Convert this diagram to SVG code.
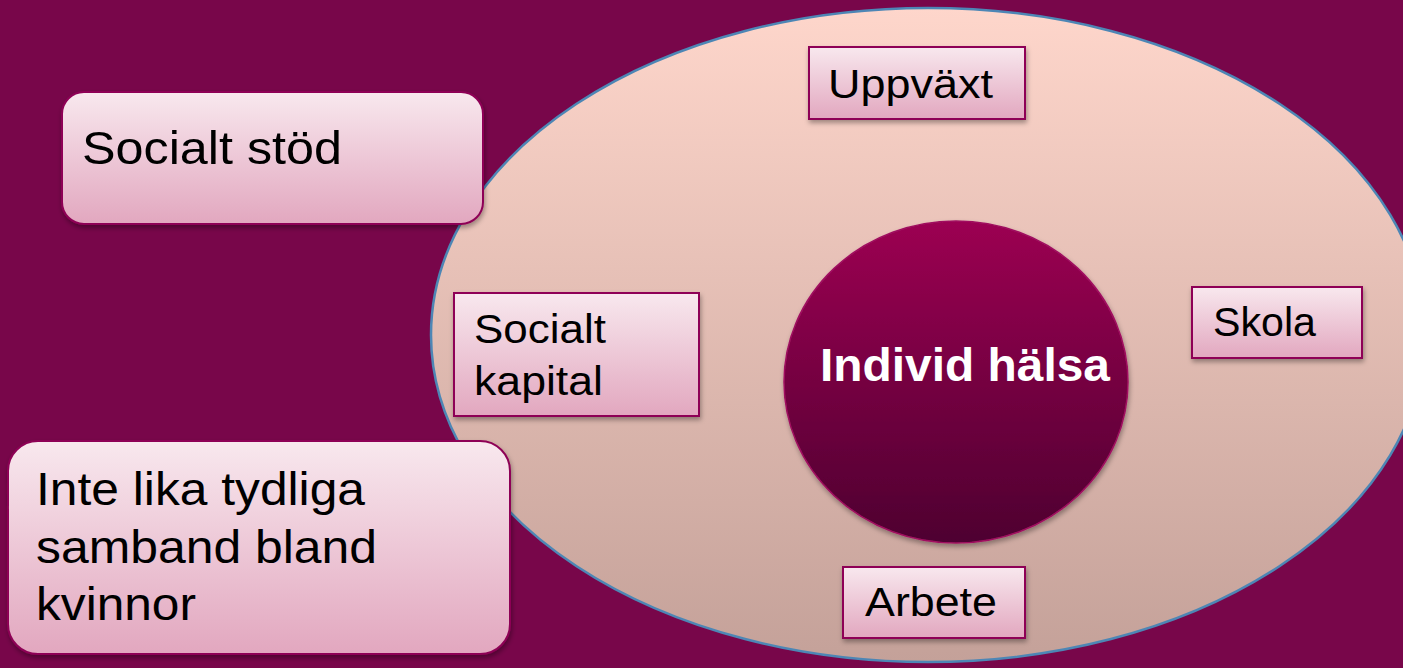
<svg xmlns="http://www.w3.org/2000/svg" width="1403" height="668" viewBox="0 0 1403 668">
<defs>
<linearGradient id="gEll" x1="0" y1="0" x2="0" y2="1">
<stop offset="0" stop-color="#FED6CB"/>
<stop offset="1" stop-color="#C4A199"/>
</linearGradient>
<linearGradient id="gBox" x1="0" y1="0" x2="0" y2="1">
<stop offset="0" stop-color="#F8E8EE"/>
<stop offset="1" stop-color="#E2A7BF"/>
</linearGradient>
<linearGradient id="gCirc" x1="0" y1="0" x2="0" y2="1">
<stop offset="0" stop-color="#9C0152"/>
<stop offset="1" stop-color="#4E0330"/>
</linearGradient>
<filter id="sh" x="-10%" y="-10%" width="125%" height="130%">
<feDropShadow dx="1" dy="3" stdDeviation="2.5" flood-color="#000" flood-opacity="0.35"/>
</filter>
</defs>
<style>
.box{fill:url(#gBox);stroke:#8E0556;stroke-width:2;filter:url(#sh)}
.t{font-family:"Liberation Sans","DejaVu Sans",sans-serif;fill:#000}
.s{font-size:41px}
.b{font-size:46px}
</style>
<rect width="1403" height="668" fill="#78064A"/>
<g id="outer">
<ellipse cx="928" cy="335" rx="497" ry="327" fill="url(#gEll)" stroke="#4D86B5" stroke-width="2.5"/>
</g>
<g id="connectors"></g>
<g id="individ">
<ellipse cx="956" cy="382" rx="172" ry="161" fill="url(#gCirc)" stroke="#A01060" stroke-width="1.5" filter="url(#sh)"/>
<text x="820" y="381" textLength="290" lengthAdjust="spacingAndGlyphs" font-family="'Liberation Sans','DejaVu Sans',sans-serif" font-weight="bold" font-size="46" fill="#fff">Individ hälsa</text>
</g>
<g id="uppvaxt">
<rect class="box" x="809" y="47" width="216" height="72"/>
<text class="t s" x="828" y="98" textLength="165" lengthAdjust="spacingAndGlyphs">Uppväxt</text>
</g>
<g id="skola">
<rect class="box" x="1192" y="287" width="170" height="71"/>
<text class="t s" x="1213" y="336" textLength="103" lengthAdjust="spacingAndGlyphs">Skola</text>
</g>
<g id="arbete">
<rect class="box" x="843" y="567" width="182" height="71"/>
<text class="t s" x="865" y="616" textLength="132" lengthAdjust="spacingAndGlyphs">Arbete</text>
</g>
<g id="socialt-kapital">
<rect class="box" x="454" y="293" width="245" height="123"/>
<text class="t s" x="474" y="343" textLength="132" lengthAdjust="spacingAndGlyphs">Socialt</text>
<text class="t s" x="474" y="395" textLength="129" lengthAdjust="spacingAndGlyphs">kapital</text>
</g>
<g id="socialt-stod">
<rect class="box" x="62" y="92" width="421" height="132" rx="22"/>
<text class="t b" x="82" y="164" textLength="260" lengthAdjust="spacingAndGlyphs">Socialt stöd</text>
</g>
<g id="inte-lika">
<rect class="box" x="8" y="441" width="502" height="213" rx="30"/>
<text class="t b" x="36" y="505" textLength="329" lengthAdjust="spacingAndGlyphs">Inte lika tydliga</text>
<text class="t b" x="36" y="563" textLength="341" lengthAdjust="spacingAndGlyphs">samband bland</text>
<text class="t b" x="36" y="620" textLength="160" lengthAdjust="spacingAndGlyphs">kvinnor</text>
</g>
</svg>
